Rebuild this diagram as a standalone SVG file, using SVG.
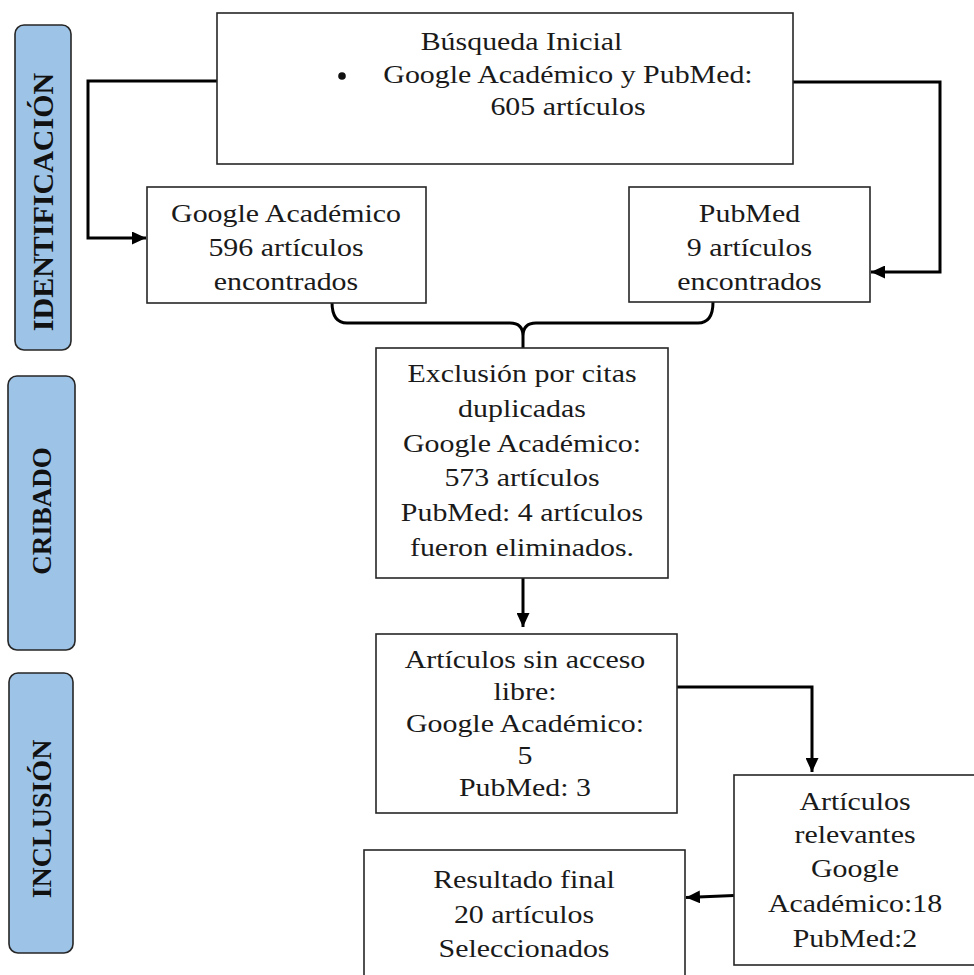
<svg xmlns="http://www.w3.org/2000/svg" width="974" height="975" viewBox="0 0 974 975">
<style>
.box{fill:#fff;stroke:#262626;stroke-width:1.6}
.side{fill:#9dc3e6;stroke:#262626;stroke-width:1.6}
.t{font-family:"Liberation Serif","Times New Roman",serif;font-size:26px;fill:#1a1a1a;text-anchor:middle}
.lbl{font-family:"Liberation Serif","Times New Roman",serif;font-weight:bold;fill:#111;text-anchor:middle}
.conn{fill:none;stroke:#000;stroke-width:3}
</style>
<defs>
<marker id="ah" markerUnits="userSpaceOnUse" markerWidth="15" markerHeight="13" refX="14" refY="6.5" orient="auto">
<path d="M0,0 L14,6.5 L0,13 z" fill="#000"/>
</marker>
</defs>
<rect width="974" height="975" fill="#fff"/>

<g id="side-identificacion">
<rect class="side" x="15" y="25" width="56" height="325" rx="9"/>
<text class="lbl" font-size="30" transform="translate(53 202) rotate(-90)">IDENTIFICACIÓN</text>
</g>
<g id="side-cribado">
<rect class="side" x="8" y="376" width="67" height="274" rx="9"/>
<text class="lbl" font-size="27" transform="translate(51 511) rotate(-90)">CRIBADO</text>
</g>
<g id="side-inclusion">
<rect class="side" x="9" y="673" width="64" height="280" rx="9"/>
<text class="lbl" font-size="28" transform="translate(51 819) rotate(-90)">INCLUSIÓN</text>
</g>

<g id="connectors">
<path class="conn" d="M217 81 H88 V238 H146" marker-end="url(#ah)"/>
<path class="conn" d="M793 82 H940 V272 H871" marker-end="url(#ah)"/>
<path class="conn" d="M332 302 Q332 323 347 323 H510 Q523 323 523 336 V348 M713 302 Q713 323 698 323 H536 Q523 323 523 336"/>
<path class="conn" d="M523 578 V627" marker-end="url(#ah)"/>
<path class="conn" d="M677 687 H812 V772" marker-end="url(#ah)"/>
<path class="conn" d="M734 895.5 L686 897.5" marker-end="url(#ah)"/>
</g>

<g id="busqueda">
<rect class="box" x="217" y="13" width="576" height="151"/>
<circle cx="342" cy="76" r="3.8" fill="#111"/>
<text class="t" transform="translate(521.5 0) scale(1.15 1)"><tspan x="0" y="50">Búsqueda Inicial</tspan></text>
<text class="t" transform="translate(568 0) scale(1.15 1)"><tspan x="0" y="83">Google Académico y PubMed:</tspan><tspan x="0" y="115">605 artículos</tspan></text>
</g>

<g id="google">
<rect class="box" x="147" y="187" width="279" height="116"/>
<text class="t" transform="translate(286 0) scale(1.15 1)"><tspan x="0" y="222">Google Académico</tspan><tspan x="0" y="256">596 artículos</tspan><tspan x="0" y="290">encontrados</tspan></text>
</g>

<g id="pubmed">
<rect class="box" x="629" y="187" width="241" height="115"/>
<text class="t" transform="translate(749.5 0) scale(1.15 1)"><tspan x="0" y="222">PubMed</tspan><tspan x="0" y="256">9 artículos</tspan><tspan x="0" y="290">encontrados</tspan></text>
</g>

<g id="exclusion">
<rect class="box" x="376" y="348" width="292" height="230"/>
<text class="t" transform="translate(522 0) scale(1.15 1)"><tspan x="0" y="382">Exclusión por citas</tspan><tspan x="0" y="417">duplicadas</tspan><tspan x="0" y="452">Google Académico:</tspan><tspan x="0" y="486">573 artículos</tspan><tspan x="0" y="521">PubMed: 4 artículos</tspan><tspan x="0" y="556">fueron eliminados.</tspan></text>
</g>

<g id="sin-acceso">
<rect class="box" x="376" y="634" width="301" height="179"/>
<text class="t" transform="translate(525 0) scale(1.15 1)"><tspan x="0" y="668">Artículos sin acceso</tspan><tspan x="0" y="700">libre:</tspan><tspan x="0" y="732">Google Académico:</tspan><tspan x="0" y="764">5</tspan><tspan x="0" y="796">PubMed: 3</tspan></text>
</g>

<g id="relevantes">
<rect class="box" x="734" y="775" width="241" height="190"/>
<text class="t" transform="translate(855 0) scale(1.15 1)"><tspan x="0" y="810">Artículos</tspan><tspan x="0" y="843">relevantes</tspan><tspan x="0" y="877">Google</tspan><tspan x="0" y="912">Académico:18</tspan><tspan x="0" y="947">PubMed:2</tspan></text>
</g>

<g id="resultado">
<rect class="box" x="364" y="850" width="321" height="140"/>
<text class="t" transform="translate(524 0) scale(1.15 1)"><tspan x="0" y="888">Resultado final</tspan><tspan x="0" y="923">20 artículos</tspan><tspan x="0" y="957">Seleccionados</tspan></text>
</g>
</svg>
